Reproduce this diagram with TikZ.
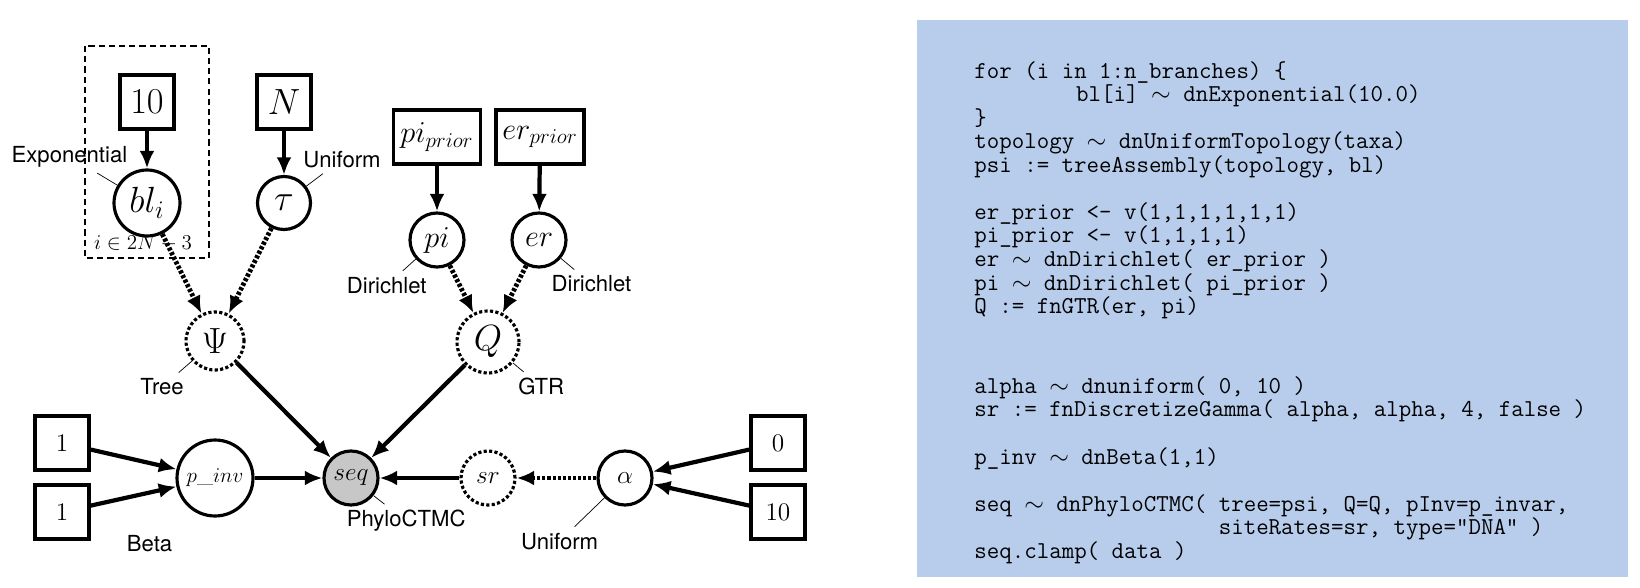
\documentclass[tikz,border=0pt]{standalone}
\usepackage{fontspec}
\newfontfamily\labelFont{TeX Gyre Heros}
\usetikzlibrary{arrows.meta}
\definecolor{codeBlue}{RGB}{184,205,236}
\newcommand\codeFont{\fontsize{13.8}{13.4}\selectfont\ttfamily\lineskiplimit=-20pt\relax}
\newlength\nodeSize
\newlength\nodeLine
\setlength\nodeSize{1.08cm}
\setlength\nodeLine{1.8pt}
\tikzset{
  constNode/.style={
    draw, rectangle, line width=2pt,
    minimum size=\nodeSize, inner sep=2pt,
    font=\fontsize{19.5}{21}\selectfont
  },
  smallConst/.style={
    constNode,
    font=\fontsize{14.5}{16}\selectfont
  },
  stochNode/.style={
    draw, circle, line width=\nodeLine,
    minimum size=\nodeSize, inner sep=1pt,
    font=\fontsize{19.5}{21}\selectfont
  },
  smallStoch/.style={
    stochNode,
    font=\fontsize{14}{16}\selectfont
  },
  detNode/.style={
    stochNode,
    dash pattern=on 1.8pt off 1.3pt
  },
  solidArrow/.style={
    -{Latex[length=10pt,width=8.5pt]},
    line width=2.4pt
  },
  dottedArrow/.style={
    solidArrow,
    line width=2.7pt,
    dash pattern=on 1.8pt off 1.1pt
  },
  plateBox/.style={
    line width=0.8pt,
    dash pattern=on 3.5pt off 2.3pt
  },
  every pin/.style={font=\labelFont\fontsize{12.6}{14}\selectfont},
  every label/.style={font=\labelFont\fontsize{12.6}{14}\selectfont},
  every pin edge/.style={draw, black, solid, line width=0.4pt}
}

\begin{document}
\begin{tikzpicture}[x=0.02cm, y=-0.02cm]
    \useasboundingbox (0,0) rectangle (1640,588);

    % plate around the branch lengths
    \draw[plateBox] (85,46) rectangle (209,258);
    \node[font=\fontsize{13}{15}\selectfont] (plateLabel) at (143,243) {$i \in 2N - 3$};

    % constants on top
    \node[constNode] (tenTop) at (147,102) {$10$};
    \node[constNode] (nTop) at (284,102) {$N$};
    \node[constNode, minimum width=1.74cm, font=\fontsize{18}{20}\selectfont] (piPrior) at (437,137) {$pi_{prior}$};
    \node[constNode, minimum width=1.76cm, font=\fontsize{18}{20}\selectfont] (erPrior) at (540,137) {$er_{prior}$};

    % stochastic nodes
    \node[stochNode, minimum size=1.32cm,
      pin={[pin distance=0.47cm, anchor=-31]149:Exponential}] (blBranch) at (147,203) {$bl_i$};
    \node[stochNode, minimum size=1.06cm,
      pin={[pin distance=0.41cm, anchor=217]37:Uniform}] (tauTopo) at (284,203) {$\tau$};
    \node[stochNode, font=\fontsize{17}{19}\selectfont,
      pin={[pin distance=0.35cm, anchor=42]222:Dirichlet}] (piFreq) at (437,240) {$pi$};
    \node[stochNode, font=\fontsize{17}{19}\selectfont,
      pin={[pin distance=0.35cm, anchor=140]-40:Dirichlet}] (erRates) at (539,240) {$er$};

    % deterministic nodes
    \node[detNode, minimum size=1.16cm,
      pin={[pin distance=0.35cm, anchor=41]221:Tree}] (psiTree) at (215,341) {$\Psi$};
    \node[detNode, minimum size=1.24cm,
      pin={[pin distance=0.28cm, anchor=140]-40:GTR}] (qGtr) at (488,342) {$Q$};

    % bottom row
    \node[smallConst] (oneA) at (62,443) {$1$};
    \node[smallConst] (oneB) at (62,512) {$1$};
    \node[smallStoch, minimum size=1.52cm, font=\fontsize{12.5}{14}\selectfont,
      label={[label distance=0.65cm, anchor=45]225:Beta}] (pInv) at (215,478) {$p\_inv$};
    \node[smallStoch, fill=black!22,
      pin={[pin distance=0.28cm, anchor=142]-38:PhyloCTMC}] (seqData) at (351,478) {$seq$};
    \node[smallStoch, dash pattern=on 1.8pt off 1.3pt] (srRates) at (488,478) {$sr$};
    \node[smallStoch,
      pin={[pin distance=0.83cm, anchor=44]224:Uniform}] (alphaShape) at (625,478) {$\alpha$};
    \node[smallConst] (zeroMin) at (778,443) {$0$};
    \node[smallConst] (tenMax) at (778,512) {$10$};

    % connectors
    \draw[solidArrow] (tenTop) -- (blBranch);
    \draw[solidArrow] (nTop) -- (tauTopo);
    \draw[solidArrow] (piPrior) -- (piFreq);
    \draw[solidArrow] (erPrior) -- (erRates);
    \draw[dottedArrow] (blBranch) -- (psiTree);
    \draw[dottedArrow] (tauTopo) -- (psiTree);
    \draw[dottedArrow] (piFreq) -- (qGtr);
    \draw[dottedArrow] (erRates) -- (qGtr);
    \draw[solidArrow] (psiTree) -- (seqData);
    \draw[solidArrow] (qGtr) -- (seqData);
    \draw[solidArrow] (oneA) -- (pInv);
    \draw[solidArrow] (oneB) -- (pInv);
    \draw[solidArrow] (pInv) -- (seqData);
    \draw[solidArrow] (srRates) -- (seqData);
    \draw[dottedArrow] (alphaShape) -- (srRates);
    \draw[solidArrow] (zeroMin) -- (alphaShape);
    \draw[solidArrow] (tenMax) -- (alphaShape);

    % model code
    \fill[codeBlue] (917,20) rectangle (1628,577);
    \node[anchor=north west, inner sep=0pt, align=left, font=\codeFont] (codeText) at (974,61) {%
      for (i in 1:n\_branches) \{\\
      \hspace*{4.2em}bl[i] $\sim$ dnExponential(10.0)\\
      \}\\
      topology $\sim$ dnUniformTopology(taxa)\\
      psi := treeAssembly(topology, bl)\\[13.4pt]
      er\_prior <- v(1,1,1,1,1,1)\\
      pi\_prior <- v(1,1,1,1)\\
      er $\sim$ dnDirichlet( er\_prior )\\
      pi $\sim$ dnDirichlet( pi\_prior )\\
      Q := fnGTR(er, pi)\\[32pt]
      alpha $\sim$ dnuniform( 0, 10 )\\
      sr := fnDiscretizeGamma( alpha, alpha, 4, false )\\[13.4pt]
      p\_inv $\sim$ dnBeta(1,1)\\[13.4pt]
      seq $\sim$ dnPhyloCTMC( tree=psi, Q=Q, pInv=p\_invar,\\
      \phantom{seq $\sim$ dnPhyloCTMC( }siteRates=sr, type="DNA" )\\
      seq.clamp( data )};
\end{tikzpicture}
\end{document}
